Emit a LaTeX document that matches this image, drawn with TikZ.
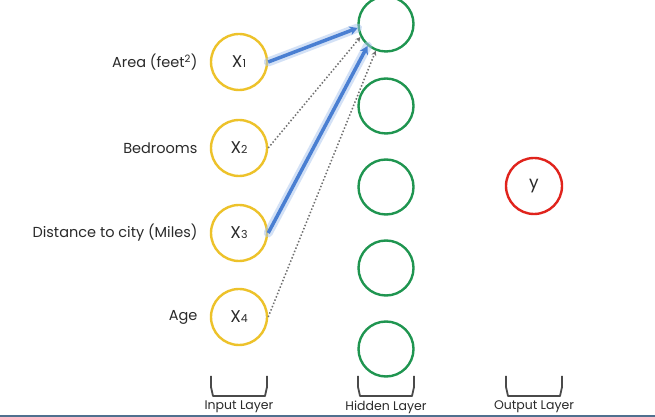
\documentclass[tikz,border=0pt]{standalone}
\usepackage{fontspec}
\setmainfont{Poppins}
\usetikzlibrary{arrows.meta}
\definecolor{inyellow}{HTML}{EDC22A}
\definecolor{hidgreen}{HTML}{1F9550}
\definecolor{outred}{HTML}{E0231C}
\definecolor{arrblue}{HTML}{4A7FD2}
\definecolor{glowblue}{HTML}{A9C4EE}
\definecolor{dotgray}{HTML}{707070}
\definecolor{edgeline}{HTML}{50708F}
\definecolor{txt}{HTML}{2A2A2A}
\tikzset{
  inneuron/.style={circle, draw=inyellow, line width=2.4pt, minimum size=56pt, inner sep=0pt, text=txt, font=\fontsize{17}{17}\selectfont},
  hidneuron/.style={circle, draw=hidgreen, line width=2.4pt, minimum size=55pt, inner sep=0pt},
  outneuron/.style={circle, draw=outred, line width=2.4pt, minimum size=56pt, inner sep=0pt, text=txt, font=\fontsize{17}{17}\selectfont},
  featlabel/.style={anchor=east, text=txt, font=\fontsize{14.5}{14.5}\selectfont},
  layerlabel/.style={text=txt, font=\fontsize{12.5}{12.5}\selectfont},
  bluearrow/.style={arrblue, line width=3.5pt, -{Stealth[length=8pt,width=9pt]}},
  blueglow/.style={glowblue, line width=9pt, opacity=0.5, line cap=round},
  dotarrow/.style={dotgray, line width=1.5pt, dotted, -{Stealth[length=5pt,width=5pt]}},
  bracket/.style={draw=txt!85, line width=1.8pt, line join=round}
}
\newcommand{\sbs}[1]{{\fontsize{11}{11}\selectfont #1}}
\begin{document}
\begin{tikzpicture}[x=1pt,y=1pt]
\useasboundingbox (0,0) rectangle (655,417);
\fill[white] (0,0) rectangle (655,417);
% input neurons
\node[inneuron] (x1) at (239,355) {X\sbs{1}};
\node[inneuron] (x2) at (239,269) {X\sbs{2}};
\node[inneuron] (x3) at (239,184) {X\sbs{3}};
\node[inneuron] (x4) at (239,100) {X\sbs{4}};
% hidden neurons
\node[hidneuron] (h1) at (386,393) {};
\node[hidneuron] (h2) at (386,311) {};
\node[hidneuron] (h3) at (386,230) {};
\node[hidneuron] (h4) at (386,149) {};
\node[hidneuron] (h5) at (386,68) {};
% output
\node[outneuron] (y) at (534,231) {y};
% feature labels
\node[featlabel] (l1) at (201,355) {Area (feet\textsuperscript{2})};
\node[featlabel] (l2) at (201,269) {Bedrooms};
\node[featlabel] (l3) at (201,184) {Distance to city (Miles)};
\node[featlabel] (l4) at (201,100) {Age};
% connectors
\draw[blueglow] (x1.east) -- (h1.188);
\draw[blueglow] (x3.east) -- (h1.230);
\draw[bluearrow] (x1.east) -- (h1.188);
\draw[dotarrow] (x2.east) -- (h1.207);
\draw[bluearrow] (x3.east) -- (h1.230);
\draw[dotarrow] (x4.east) -- (h1.249);
% brackets
\coordinate (bi) at (239,31);
\coordinate (bh) at (386,31);
\coordinate (bo) at (534,31);
\draw[bracket] ([xshift=-28pt,yshift=10pt]bi) -- ([xshift=-28pt,yshift=-1pt]bi) -- ([xshift=-26pt,yshift=-10pt]bi) -- ([xshift=26pt,yshift=-10pt]bi) -- ([xshift=28pt,yshift=-1pt]bi) -- ([xshift=28pt,yshift=10pt]bi);
\draw[bracket] ([xshift=-28pt,yshift=10pt]bh) -- ([xshift=-28pt,yshift=-1pt]bh) -- ([xshift=-26pt,yshift=-10pt]bh) -- ([xshift=26pt,yshift=-10pt]bh) -- ([xshift=28pt,yshift=-1pt]bh) -- ([xshift=28pt,yshift=10pt]bh);
\draw[bracket] ([xshift=-28pt,yshift=10pt]bo) -- ([xshift=-28pt,yshift=-1pt]bo) -- ([xshift=-26pt,yshift=-10pt]bo) -- ([xshift=26pt,yshift=-10pt]bo) -- ([xshift=28pt,yshift=-1pt]bo) -- ([xshift=28pt,yshift=10pt]bo);
\node[layerlabel] (ti) at (239,10) {Input Layer};
\node[layerlabel] (th) at (386,10) {Hidden Layer};
\node[layerlabel] (to) at (534,10) {Output Layer};
% bottom edge line
\draw[edgeline, line width=1.5pt] (0,0.75) -- (655,0.75);
\end{tikzpicture}
\end{document}
